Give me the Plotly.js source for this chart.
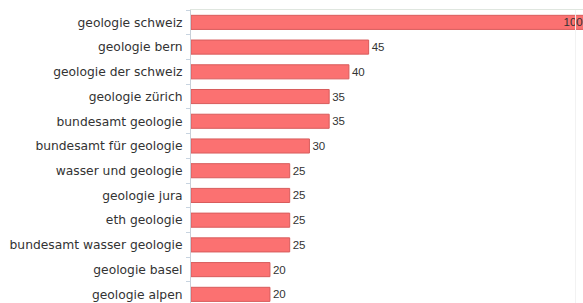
<!DOCTYPE html>
<html>
<head>
<meta charset="utf-8">
<script src="https://cdn.plot.ly/plotly-3.0.1.min.js"></script>
<style>html,body{margin:0;padding:0;background:#fff;}#chart{width:583px;height:303px;}</style>
</head>
<body>
<div id="chart"></div>
<script>
const categories = [
  "geologie schweiz",
  "geologie bern",
  "geologie der schweiz",
  "geologie zürich",
  "bundesamt geologie",
  "bundesamt für geologie",
  "wasser und geologie",
  "geologie jura",
  "eth geologie",
  "bundesamt wasser geologie",
  "geologie basel",
  "geologie alpen"
];
const values = [100, 45, 40, 35, 35, 30, 25, 25, 25, 25, 20, 20];
const valueLabels = values.map(String);

const valFont = {family: 'Liberation Sans, Arial, sans-serif', size: 11.5, color: '#333'};

const trace = {
  type: 'bar',
  orientation: 'h',
  y: categories,
  x: values,
  text: valueLabels,
  textposition: values.map((v, i) => i === 0 ? 'inside' : 'outside'),
  insidetextanchor: 'end',
  constraintext: 'none',
  textangle: 0,
  textfont: valFont,
  insidetextfont: valFont,
  outsidetextfont: valFont,
  width: 0.57,
  marker: {color: '#fb7171', line: {color: '#d85c5c', width: 1}},
  hoverinfo: 'none'
};

const layout = {
  width: 583,
  height: 303,
  margin: {l: 191, r: 0, t: 10, b: 0, pad: 0},
  paper_bgcolor: '#ffffff',
  plot_bgcolor: '#ffffff',
  showlegend: false,
  font: {family: 'DejaVu Sans, Verdana, sans-serif', size: 12.3, color: '#333'},
  xaxis: {
    range: [0, 99.3],
    side: 'top',
    showline: true,
    linecolor: '#dfe6df',
    linewidth: 1,
    showgrid: false,
    zeroline: false,
    showticklabels: false,
    ticks: ''
  },
  yaxis: {
    type: 'category',
    range: [11.35, -0.5],
    showline: true,
    linecolor: '#c8cfd8',
    linewidth: 1,
    ticks: 'outside',
    tickson: 'boundaries',
    ticklen: 4,
    tickcolor: '#c8d4e0',
    showgrid: false,
    zeroline: false,
    tickfont: {family: 'DejaVu Sans, Verdana, sans-serif', size: 12.3, color: '#333'},
    ticklabelstandoff: 5
  },
  shapes: [{
    type: 'line', xref: 'paper', yref: 'paper',
    x0: 0.981, x1: 0.981, y0: 0, y1: 1,
    line: {color: '#f2f2f2', width: 1}
  }]
};

Plotly.newPlot('chart', [trace], layout, {staticPlot: true, displayModeBar: false});
</script>
</body>
</html>
